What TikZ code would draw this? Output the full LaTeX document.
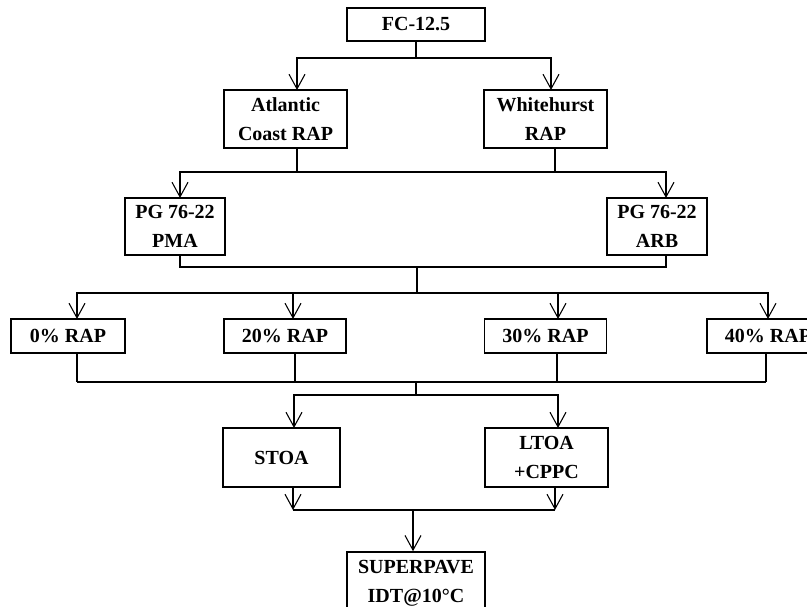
\documentclass[tikz,border=0pt]{standalone}
\usepackage{fontspec}
\setmainfont{Liberation Serif}
\usepackage{tikz}
\usetikzlibrary{arrows,arrows.meta}
\usetikzlibrary{calc,positioning}

\begin{document}
\begin{tikzpicture}[x=0.75pt,y=-0.75pt]
	
	% Definitions.
	\tikzstyle{every node}=[
		font=\fontsize{15}{21.5}\selectfont\bfseries,
		align=center,
		inner sep=2pt
	]
	\tikzstyle{box}=[draw, line width=1.2pt]
	\tikzstyle{link}=[line width=0.8pt]
	\def\myarrow{Straight Barb[width=12pt,length=11pt]};
	
	\useasboundingbox (0,0) rectangle (807,607);
	
	% ---------------- Boxes ----------------
	
	\node[box, minimum width=103.5pt, minimum height=24.75pt] (fc) at (416,24.5) {FC-12.5};
	
	\node[box, minimum width=92.25pt, minimum height=43.5pt] (atl) at (285.5,119) {Atlantic\\Coast RAP};
	\node[box, minimum width=92.25pt, minimum height=43.5pt] (wh) at (545.5,119) {Whitehurst\\RAP};
	
	\node[box, minimum width=75pt, minimum height=42.75pt] (pma) at (175,226.5) {PG 76-22\\PMA};
	\node[box, minimum width=75pt, minimum height=42.75pt] (arb) at (657,226.5) {PG 76-22\\ARB};
	
	\node[box, minimum width=85.5pt, minimum height=25.5pt] (r0) at (68,336) {0\% RAP};
	\node[box, minimum width=91.5pt, minimum height=25.5pt] (r20) at (285,336) {20\% RAP};
	\node[box, minimum width=91.5pt, minimum height=25.5pt] (r30) at (545.5,336) {30\% RAP};
	\node[box, minimum width=91.5pt, minimum height=25.5pt] (r40) at (768,336) {40\% RAP};
	
	\node[box, minimum width=87.75pt, minimum height=44.25pt] (stoa) at (281.5,457.5) {STOA};
	\node[box, minimum width=92.25pt, minimum height=44.25pt] (ltoa) at (546.5,457.5) {LTOA\\+CPPC};
	
	\node[box, minimum width=103.5pt, minimum height=46.5pt] (sp) at (416,583) {SUPERPAVE\\IDT@10°C};
	
	% ----------- Location of Branches -----------
	
	\coordinate (bus1) at (416,58);
	\coordinate (bus2) at (417,172);
	\coordinate (bus3) at (417,267);
	\coordinate (bus4) at (417,293);
	\coordinate (bus5) at (416,382);
	\coordinate (bus6) at (416,395);
	\coordinate (bus7) at (413,510);
	
	\coordinate (atl-in) at (297,90);
	\coordinate (wh-in) at (551,90);
	\coordinate (wh-out) at (555,148);
	\coordinate (pma-in) at (180,198);
	\coordinate (arb-in) at (666,198);
	\coordinate (r0-in) at (77,319);
	\coordinate (r20-in) at (293,319);
	\coordinate (r30-in) at (558,319);
	\coordinate (r40-in) at (768,319);
	\coordinate (r0-out) at (77,353);
	\coordinate (r20-out) at (295,353);
	\coordinate (r30-out) at (557,353);
	\coordinate (r40-out) at (766,353);
	\coordinate (stoa-in) at (294,428);
	\coordinate (ltoa-in) at (558,428);
	\coordinate (stoa-out) at (293,487);
	\coordinate (ltoa-out) at (555,487);
	
	% ================== LEVEL 1 ==================
	
	\draw[link] (fc.south) -- (bus1);
	\draw[link,-{\myarrow}] (bus1) -| (atl-in);
	\draw[link,-{\myarrow}] (bus1) -| (wh-in);
	
	% ================== LEVEL 2 ==================
	
	\draw[link] (atl.south -| atl-in) -- (atl-in |- bus2);
	\draw[link] (wh.south -| wh-out) -- (wh-out |- bus2);
	\draw[link,-{\myarrow}] (bus2) -| (pma-in);
	\draw[link,-{\myarrow}] (bus2) -| (arb-in);
	
	% ================== LEVEL 3 ==================
	
	\draw[link] (pma.south -| pma-in) -- (pma-in |- bus3) -- (arb-in |- bus3) -- (arb.south -| arb-in);
	\draw[link] (bus3) -- (bus4);
	\foreach \n in {r0,r20,r30,r40}
		\draw[link,-{\myarrow}] (bus4) -| (\n-in);
	
	% ================== LEVEL 4 ==================
	
	\foreach \n in {r0,r20,r30,r40}
		\draw[link] (\n.south -| \n-out) -- (\n-out |- bus5);
	\draw[link] (r0-out |- bus5) -- (r40-out |- bus5);
	\draw[link] (bus5) -- (bus6);
	\draw[link,-{\myarrow}] (bus6) -| (stoa-in);
	\draw[link,-{\myarrow}] (bus6) -| (ltoa-in);
	
	% ================== LEVEL 5 ==================
	
	\draw[link,-{\myarrow}] (stoa.south -| stoa-out) -- (stoa-out |- bus7);
	\draw[link,-{\myarrow}] (ltoa.south -| ltoa-out) -- (ltoa-out |- bus7);
	\draw[link] (stoa-out |- bus7) -- (ltoa-out |- bus7);
	\draw[link,-{\myarrow}] (bus7) -- (bus7 |- sp.north);
	
\end{tikzpicture}
\end{document}
